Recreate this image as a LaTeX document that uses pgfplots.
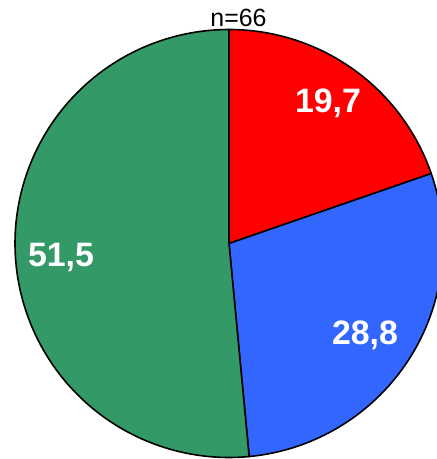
\documentclass[border=0pt]{standalone}
\usepackage{pgfplots}
\pgfplotsset{compat=1.18}
\usepackage{pgfplotstable}
\usepackage{fontspec}
\setmainfont{Liberation Sans}
\definecolor{pred}{HTML}{FF0000}
\definecolor{pblue}{HTML}{3366FF}
\definecolor{pgreen}{HTML}{339966}
\pgfplotstableread{
value
19.7
28.8
51.5
}\piedata
\pgfplotstablegetelem{0}{value}\of\piedata \let\va\pgfplotsretval
\pgfplotstablegetelem{1}{value}\of\piedata \let\vb\pgfplotsretval
\pgfplotstablegetelem{2}{value}\of\piedata \let\vc\pgfplotsretval
\pgfmathsetmacro\tot{\va+\vb+\vc}
\pgfmathsetmacro\aA{360*\va/\tot}
\pgfmathsetmacro\aB{\aA+360*\vb/\tot}
\def\cx{229}
\def\cy{215.5}
\def\R{214}
\begin{document}
\begin{tikzpicture}
\begin{axis}[
  hide axis, scale only axis,
  width=437bp, height=459bp,
  xmin=0, xmax=437, ymin=0, ymax=459,
  clip=true,
]
\addplot[fill=pred, draw=black, line width=1.6bp, domain=0:\aA, samples=80, line join=round]
  ({\cx+\R*sin(x)}, {\cy+\R*cos(x)}) -- (axis cs:\cx,\cy) -- cycle;
\addplot[fill=pblue, draw=black, line width=1.6bp, domain=\aA:\aB, samples=80, line join=round]
  ({\cx+\R*sin(x)}, {\cy+\R*cos(x)}) -- (axis cs:\cx,\cy) -- cycle;
\addplot[fill=pgreen, draw=black, line width=1.6bp, domain=\aB:360, samples=120, line join=round]
  ({\cx+\R*sin(x)}, {\cy+\R*cos(x)}) -- (axis cs:\cx,\cy) -- cycle;
\node[anchor=base, text=white, font=\bfseries\fontsize{34}{34}\selectfont, inner sep=0pt] at (axis cs:328,346) {19,7};
\node[anchor=base, text=white, font=\bfseries\fontsize{34}{34}\selectfont, inner sep=0pt] at (axis cs:365,114) {28,8};
\node[anchor=base, text=white, font=\bfseries\fontsize{34}{34}\selectfont, inner sep=0pt] at (axis cs:61,192) {51,5};
\node[anchor=base, text=black, font=\fontsize{25}{25}\selectfont, inner sep=0pt] at (axis cs:238.5,432) {n=66};
\coordinate (BL) at (rel axis cs:0,0);
\coordinate (TR) at (rel axis cs:1,1);
\end{axis}
\pgfresetboundingbox
\path[use as bounding box] (BL) rectangle (TR);
\end{tikzpicture}
\end{document}
